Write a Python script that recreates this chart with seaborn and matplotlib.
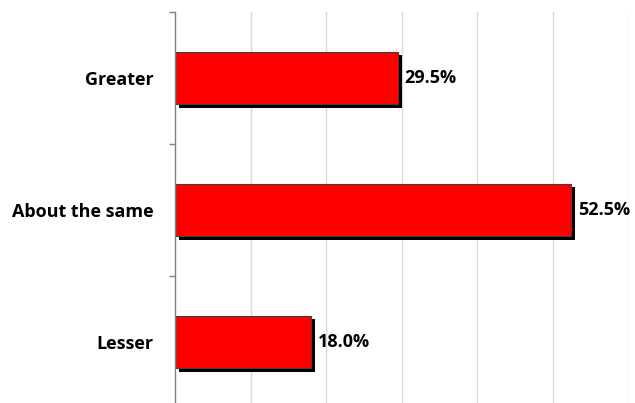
import matplotlib
matplotlib.use("Agg")
import matplotlib.pyplot as plt
import matplotlib.patheffects as pe
from matplotlib.ticker import FixedLocator
import seaborn as sns
import pandas as pd

categories = ["Greater", "About the same", "Lesser"]
values = [29.5, 52.5, 18.0]
value_labels = ["29.5%", "52.5%", "18.0%"]

sns.set_theme(style="white")
plt.rcParams["font.family"] = ["Open Sans", "DejaVu Sans"]

df = pd.DataFrame({"category": categories, "value": values})

fig = plt.figure(figsize=(6.35, 4.03), dpi=100)
ax = fig.add_axes([175 / 635, -5 / 403, 453 / 635, 396 / 403])

sns.barplot(data=df, x="value", y="category", orient="h", color="#ff0000",
            saturation=1, width=0.40, edgecolor="#404040", linewidth=0.8, ax=ax)

shadow = [pe.SimplePatchShadow(offset=(2.8, -2.8), shadow_rgbFace="black", alpha=1.0),
          pe.Normal()]
for patch in ax.patches:
    patch.set_path_effects(shadow)

for i, (v, lab) in enumerate(zip(values, value_labels)):
    ax.annotate(lab, xy=(v, i), xytext=(5, 0), textcoords="offset points",
                ha="left", va="center", fontsize=13, fontweight="bold", color="black")

ax.set_xlim(0, 60)
ax.set_ylim(2.5, -0.5)
ax.set_xticks([10, 20, 30, 40, 50, 60])
ax.set_xticklabels([])
ax.tick_params(axis="x", length=0)
ax.grid(axis="x", color="#d9d9d9", linewidth=1)
ax.set_axisbelow(True)

ax.yaxis.set_minor_locator(FixedLocator([-0.5, 0.5, 1.5, 2.5]))
ax.tick_params(axis="y", which="major", length=0, pad=15.5, labelcolor="black")
ax.tick_params(axis="y", which="minor", length=4, width=1, color="#808080", left=True)
for t in ax.get_yticklabels():
    t.set_fontweight("bold")
    t.set_fontsize(13)
ax.set_xlabel("")
ax.set_ylabel("")

for s in ["top", "right", "bottom"]:
    ax.spines[s].set_visible(False)
ax.spines["left"].set_color("#808080")
ax.spines["left"].set_linewidth(1)

fig.savefig("out.png", dpi=100)
